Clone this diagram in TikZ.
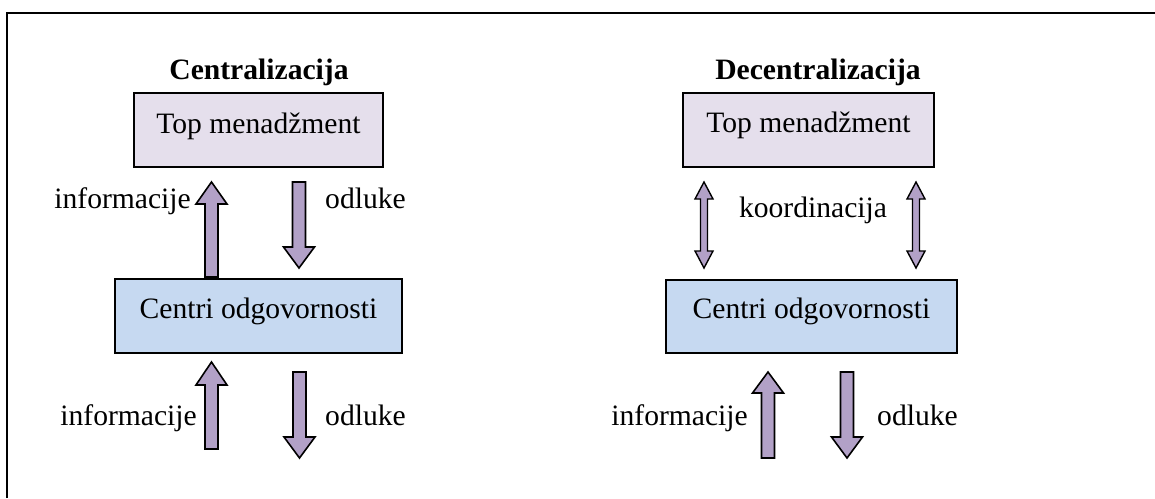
\documentclass[tikz,border=0pt]{standalone}
\usepackage{fontspec}
\setmainfont{Liberation Serif}
\definecolor{topfill}{HTML}{E5DFEC}
\definecolor{ctrfill}{HTML}{C6D9F1}
\definecolor{arrfill}{HTML}{B2A1C7}
\tikzset{
  box/.style={draw=black, line width=2pt},
  lbl/.style={inner sep=0pt, font=\fontsize{29.6}{34}\selectfont},
  ttl/.style={inner sep=0pt, font=\fontsize{29.6}{34}\selectfont\bfseries},
  fatarrow/.style={draw=black, fill=arrfill, line width=1.6pt, line join=miter}
}
% block arrow pointing up: centre x, tip y, tail y, head length
\newcommand{\uparr}[4]{%
  \draw[fatarrow] (#1-6.5,#3) -- (#1-6.5,#2+#4) -- (#1-15.5,#2+#4) -- (#1,#2)
    -- (#1+15.5,#2+#4) -- (#1+6.5,#2+#4) -- (#1+6.5,#3) -- cycle;}
% block arrow pointing down: centre x, tail y, tip y, head length
\newcommand{\downarr}[4]{%
  \draw[fatarrow] (#1-6.5,#2) -- (#1-6.5,#3-#4) -- (#1-15.5,#3-#4) -- (#1,#3)
    -- (#1+15.5,#3-#4) -- (#1+6.5,#3-#4) -- (#1+6.5,#2) -- cycle;}
% slim double-headed arrow: centre x, top tip y, bottom tip y
\newcommand{\dblarr}[3]{%
  \draw[fatarrow, line width=1.4pt] (#1,#2) -- (#1+9,#2+17) -- (#1+3.5,#2+17) -- (#1+3.5,#3-17)
    -- (#1+9,#3-17) -- (#1,#3) -- (#1-9,#3-17) -- (#1-3.5,#3-17) -- (#1-3.5,#2+17)
    -- (#1-9,#2+17) -- cycle;}
\begin{document}
\begin{tikzpicture}[x=1pt,y=-1pt]
\useasboundingbox (0,0) rectangle (1155,498);
% frame
\draw[line width=2.2pt] (7,498) -- (7,13) -- (1155,13);

% ---- Centralizacija ----
\node[ttl, anchor=base] (t1) at (259,79) {Centralizacija};
\path[box, fill=topfill] (134,93) rectangle (383,167);
\node[lbl, anchor=base] (top1) at (258.5,133) {Top menadžment};
\path[box, fill=ctrfill] (115,279) rectangle (402,353);
\node[lbl, anchor=base] (ctr1) at (258.5,318) {Centri odgovornosti};

\uparr{211.5}{182}{277}{22}
\downarr{299}{182}{268}{21}
\node[lbl, anchor=base east] (inf1) at (191,208) {informacije};
\node[lbl, anchor=base west] (odl1) at (325,208) {odluke};

\uparr{211.5}{362}{449}{23}
\downarr{299.5}{372}{458}{21}
\node[lbl, anchor=base east] (inf2) at (197,425) {informacije};
\node[lbl, anchor=base west] (odl2) at (325,425) {odluke};

% ---- Decentralizacija ----
\node[ttl, anchor=base] (t2) at (818,79) {Decentralizacija};
\path[box, fill=topfill] (683,93) rectangle (934,167);
\node[lbl, anchor=base] (top2) at (808.5,132) {Top menadžment};
\path[box, fill=ctrfill] (666,280) rectangle (957,353);
\node[lbl, anchor=base] (ctr2) at (811.5,318) {Centri odgovornosti};

\dblarr{704}{182}{268}
\dblarr{916}{182}{268}
\node[lbl, anchor=base] (koo) at (813,217) {koordinacija};

\uparr{768}{372}{458}{21}
\downarr{847}{372}{458}{21}
\node[lbl, anchor=base east] (inf3) at (748,425) {informacije};
\node[lbl, anchor=base west] (odl3) at (877,425) {odluke};
\end{tikzpicture}
\end{document}
